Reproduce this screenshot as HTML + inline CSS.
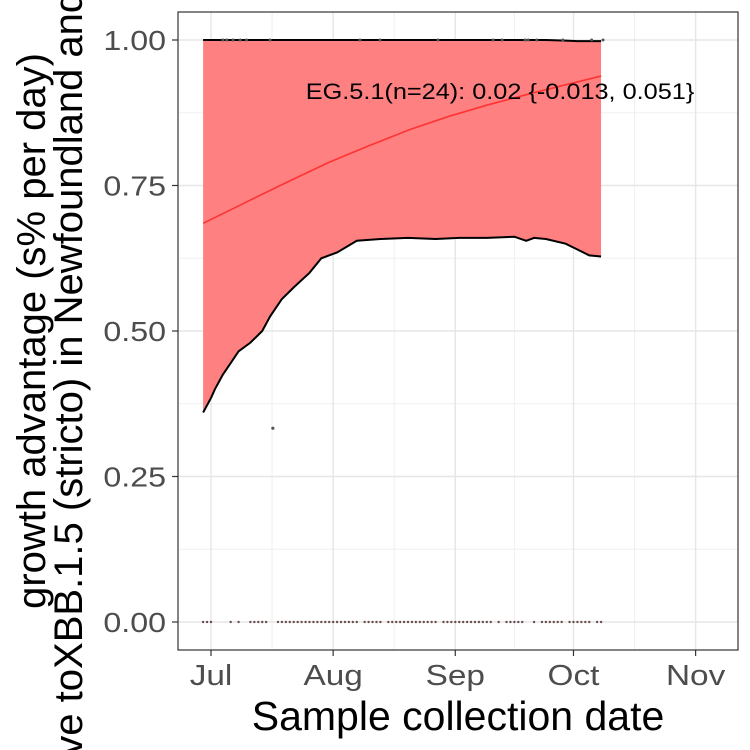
<!DOCTYPE html>
<html><head><meta charset="utf-8"><style>
body{margin:0;background:#fff}
svg{display:block;font-family:"Liberation Sans",sans-serif}
</style></head><body>
<svg id="chart" width="750" height="750">
<rect width="750" height="750" fill="#fff"/>
<g id="grid"></g>
<g id="marks"></g>
<rect x="178" y="12" width="560" height="638" fill="none" stroke="#333" stroke-width="1.2"/>
<g id="axes"></g>
<text x="458" y="730" text-anchor="middle" font-size="41" fill="#000">Sample collection date</text>
<g transform="translate(0,331) rotate(-90)">
<text x="0" y="45" text-anchor="middle" font-size="40" fill="#000">growth advantage (s% per day)</text>
<text x="0" y="82" text-anchor="middle" font-size="40" fill="#000">relative toXBB.1.5 (stricto) in Newfoundland and Labrador</text>
</g>
</svg>
<script>
// days since Jul 1
const xTickLabels=["Jul","Aug","Sep","Oct","Nov"];
const xTickDays=[0,31,62,92,123];
const yTicks=[0,0.25,0.5,0.75,1];
const yTickLabels=["0.00","0.25","0.50","0.75","1.00"];
const ribbonDays=[-2,0,1,3,5,7,10,13,15,18,21,25,28,32,37,43,50,57,63,70,77,80,82,85,90,93,96,99];
const ribbonLower=[0.36,0.385,0.40,0.425,0.445,0.465,0.48,0.50,0.525,0.555,0.575,0.60,0.625,0.635,0.655,0.658,0.66,0.658,0.66,0.66,0.662,0.655,0.66,0.658,0.65,0.64,0.63,0.628];
const ribbonUpper=[1,1,1,1,1,1,1,1,1,1,1,1,1,1,1,1,1,1,1,1,1,1,1,1,0.999,0.998,0.998,0.998];
const fitDays=[-2,10,20,30,40,50,60,70,80,90,99];
const fitValues=[0.685,0.725,0.758,0.79,0.818,0.845,0.868,0.888,0.906,0.923,0.938];
const zeroDays=[-2,-1,0,5,7,10,11,12,13,14,17,18,19,20,21,22,23,24,25,26,27,28,29,30,31,32,33,34,35,36,37,39,40,41,42,43,45,46,47,48,49,50,51,52,53,54,55,56,57,59,60,61,62,63,64,65,66,67,68,69,70,71,73,75,76,77,78,79,82,84,85,86,87,88,89,91,92,93,94,95,96,98,99];
const oneDays=[3,4,5.6,7.4,9,15,37.8,42.9,57.6,71.6,73.9,79.7,80.5,82.7,89.3,96.6,99.5];
const midDays=[15.7];
const midValues=[0.333];

const NS="http://www.w3.org/2000/svg";
const X=d=>211+d*3.94;
const Y=v=>622-v*582;
function mk(tag,attrs,parent){const e=document.createElementNS(NS,tag);for(const k in attrs)e.setAttribute(k,attrs[k]);parent.appendChild(e);return e;}
const grid=document.getElementById('grid'),marks=document.getElementById('marks'),axes=document.getElementById('axes');
mk('rect',{x:178,y:12,width:560,height:638,fill:'#fff'},grid);
for(let i=0;i<yTicks.length-1;i++){const v=(yTicks[i]+yTicks[i+1])/2;const l=mk('line',{x1:178,x2:738,y1:Y(v),y2:Y(v),stroke:'#f0f0f0','stroke-width':1},grid);

}
for(let i=0;i<xTickDays.length-1;i++){const d=(xTickDays[i]+xTickDays[i+1])/2;const l=mk('line',{x1:X(d),x2:X(d),y1:12,y2:650,stroke:'#f0f0f0','stroke-width':1},grid);

}
yTicks.forEach((v,i)=>{const l=mk('line',{x1:178,x2:738,y1:Y(v),y2:Y(v),stroke:'#e6e6e6','stroke-width':1.4},grid);


mk('line',{x1:172,x2:178,y1:Y(v),y2:Y(v),stroke:'#333','stroke-width':1.2},axes);
const t=mk('text',{x:0,y:0,'text-anchor':'end','font-size':28,fill:'#4d4d4d',transform:`translate(166,${Y(v)+10}) scale(1.15,1)`},axes);t.textContent=yTickLabels[i];

});
xTickDays.forEach((d,i)=>{const l=mk('line',{x1:X(d),x2:X(d),y1:12,y2:650,stroke:'#e6e6e6','stroke-width':1.4},grid);


mk('line',{x1:X(d),x2:X(d),y1:650,y2:656,stroke:'#333','stroke-width':1.2},axes);
const t=mk('text',{x:0,y:0,'text-anchor':'middle','font-size':29,fill:'#4d4d4d',transform:`translate(${X(d)},685) scale(1.15,1)`},axes);t.textContent=xTickLabels[i];

});
let p=ribbonDays.map((d,i)=>`${X(d)},${Y(ribbonUpper[i])}`);
for(let i=ribbonDays.length-1;i>=0;i--)p.push(`${X(ribbonDays[i])},${Y(ribbonLower[i])}`);
const rib=mk('polygon',{points:p.join(' '),fill:'#ff8080'},marks);


const lo=mk('polyline',{points:ribbonDays.map((d,i)=>`${X(d)},${Y(ribbonLower[i])}`).join(' '),fill:'none',stroke:'#000','stroke-width':2},marks);


const hi=mk('polyline',{points:ribbonDays.map((d,i)=>`${X(d)},${Y(ribbonUpper[i])}`).join(' '),fill:'none',stroke:'#000','stroke-width':2},marks);


const fit=mk('polyline',{points:fitDays.map((d,i)=>`${X(d)},${Y(fitValues[i])}`).join(' '),fill:'none',stroke:'#ff3333','stroke-width':1.6},marks);


zeroDays.forEach(d=>{const c=mk('circle',{cx:X(d),cy:Y(0),r:1.2,fill:'#6b4d4d'},marks);

});
oneDays.forEach(d=>{const c=mk('circle',{cx:X(d),cy:Y(1),r:1.5,fill:'#555'},marks);

});
midDays.forEach((d,i)=>{const c=mk('circle',{cx:X(d),cy:Y(midValues[i]),r:1.6,fill:'#555'},marks);

});
const lab=mk('text',{x:0,y:0,'text-anchor':'middle','font-size':22,fill:'#000',transform:'translate(500,99) scale(1.15,1)'},marks);
lab.textContent='EG.5.1(n=24): 0.02 {-0.013, 0.051}';


</script>
</body></html>
